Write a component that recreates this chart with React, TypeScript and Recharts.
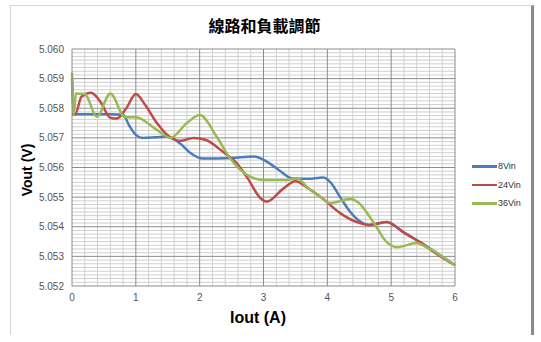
import {
  LineChart,
  Line,
  XAxis,
  YAxis,
  ReferenceLine
} from "recharts"

// Iout (A) sample points and Vout (V) readings for each input voltage
const iout8 = [0, 0.03, 0.3, 0.6, 0.8, 0.9, 1.0, 1.1, 1.3, 1.5, 1.7, 1.85, 2.05, 2.5, 2.85, 3.05, 3.25, 3.45, 3.7, 3.93, 4.05, 4.2, 4.36, 4.5, 4.65, 4.93, 5.2, 5.45, 6]
const vout8 = [5.059, 5.0578, 5.0578, 5.0578, 5.05778, 5.0574, 5.0571, 5.057, 5.05702, 5.05705, 5.0568, 5.0565, 5.0563, 5.05632, 5.05637, 5.0562, 5.0559, 5.05563, 5.05562, 5.05566, 5.0555, 5.055, 5.0545, 5.0542, 5.05406, 5.05416, 5.0538, 5.05348, 5.0527]

const iout24 = [0, 0.05, 0.15, 0.3, 0.45, 0.6, 0.7, 0.85, 1.0, 1.15, 1.33, 1.53, 1.7, 1.9, 2.1, 2.37, 2.58, 2.75, 2.95, 3.05, 3.3, 3.5, 3.7, 3.9, 4.2, 4.46, 4.67, 4.93, 5.19, 5.45, 5.7, 6]
const vout24 = [5.0578, 5.0578, 5.0584, 5.05852, 5.0582, 5.05768, 5.05765, 5.058, 5.05848, 5.0581, 5.0575, 5.05703, 5.0569, 5.057, 5.05693, 5.05652, 5.05615, 5.05564, 5.05497, 5.05485, 5.05527, 5.05554, 5.0553, 5.055, 5.05446, 5.05416, 5.05406, 5.05416, 5.05382, 5.05348, 5.0531, 5.0527]

const iout36 = [0, 0.03, 0.06, 0.2, 0.39, 0.6, 0.83, 1.0, 1.33, 1.54, 1.8, 2.0, 2.27, 2.48, 2.74, 3.0, 3.37, 3.52, 3.7, 3.89, 4.04, 4.36, 4.48, 4.72, 4.93, 5.09, 5.4, 5.56, 6]
const vout36 = [5.0592, 5.0578, 5.0585, 5.05848, 5.05771, 5.0585, 5.0577, 5.0577, 5.05727, 5.057, 5.0575, 5.05777, 5.05703, 5.0563, 5.05575, 5.05558, 5.05558, 5.05564, 5.0553, 5.055, 5.0548, 5.05494, 5.05483, 5.05416, 5.05348, 5.05331, 5.05345, 5.0533, 5.0527]

const xTicks = [0, 1, 2, 3, 4, 5, 6]
const yTicks = [5.052, 5.053, 5.054, 5.055, 5.056, 5.057, 5.058, 5.059, 5.06]

const seriesNames = ["8Vin", "24Vin", "36Vin"]
const colors = ["#4a7ebb", "#be4b48", "#98b954"]

const toPoints = (xs: number[], ys: number[]) =>
  xs.map((x, i) => ({ x, y: ys[i] }))

const series = [
  toPoints(iout8, vout8),
  toPoints(iout24, vout24),
  toPoints(iout36, vout36)
]

// minor grid positions
const minorX: number[] = []
for (let i = 1; i < 30; i++) if (i % 5 !== 0) minorX.push(i * 0.2)
const minorY: number[] = []
for (let i = 1; i < 64; i++) if (i % 8 !== 0) minorY.push(5.052 + i * 0.000125)

const MAJOR = "#8c8c8c"
const MINOR = "#cfcfcf"
const FONT = "Liberation Sans, Arial, sans-serif"

function LegendBox() {
  return (
    <div
      style={{
        position: "absolute",
        left: 472,
        top: 157,
        fontFamily: FONT,
        fontSize: 9,
        color: "#333"
      }}
    >
      {seriesNames.map((n, i) => (
        <div key={n} style={{ display: "flex", alignItems: "center", height: 18.5 }}>
          <div style={{ width: 25, height: 2.5, background: colors[i] }} />
          <span style={{ marginLeft: 1 }}>{n}</span>
        </div>
      ))}
    </div>
  )
}

export default function App() {
  return (
    <div style={{ position: "absolute", left: 0, top: 0, width: 541, height: 342, background: "#fff" }}>

      <div
        style={{
          position: "absolute",
          left: 10,
          top: 5,
          width: 520,
          height: 329,
          borderLeft: "1px solid #d4d4d4",
          borderTop: "1px solid #d4d4d4",
          borderRight: "3px solid #8a8a8a"
        }}
      />

      <div
        style={{
          position: "absolute",
          left: 0,
          width: 529,
          top: 13,
          textAlign: "center",
          fontFamily: "Noto Sans CJK TC",
          fontWeight: 700,
          fontSize: 16,
          color: "#000"
        }}
      >
        線路和負載調節
      </div>

      <div
        style={{
          position: "absolute",
          left: 27,
          top: 170,
          transform: "translate(-50%, -50%) rotate(-90deg)",
          whiteSpace: "nowrap",
          fontFamily: FONT,
          fontWeight: 700,
          fontSize: 14,
          color: "#000"
        }}
      >
        Vout (V)
      </div>

      <div
        style={{
          position: "absolute",
          left: 258,
          top: 318,
          transform: "translate(-50%, -50%)",
          whiteSpace: "nowrap",
          fontFamily: FONT,
          fontWeight: 700,
          fontSize: 16,
          color: "#000"
        }}
      >
        Iout (A)
      </div>

      <LineChart
        width={541}
        height={342}
        margin={{ top: 49, right: 86, bottom: 26, left: 0 }}
        style={{ position: "absolute", left: 0, top: 0 }}
      >
        <XAxis
          dataKey="x"
          type="number"
          domain={[0, 6]}
          ticks={xTicks}
          height={30}
          tickLine={false}
          axisLine={{ stroke: MAJOR }}
          tick={{ fontSize: 10, fill: "#555", fontFamily: FONT }}
        />
        <YAxis
          type="number"
          domain={[5.052, 5.06]}
          ticks={yTicks}
          width={72}
          tickLine={false}
          axisLine={{ stroke: MAJOR }}
          tickFormatter={(v: number) => v.toFixed(3)}
          tick={{ fontSize: 10, fill: "#555", fontFamily: FONT }}
        />

        {minorX.map((v) => (
          <ReferenceLine key={"mx" + v} x={v} stroke={MINOR} strokeWidth={1} />
        ))}
        {minorY.map((v) => (
          <ReferenceLine key={"my" + v} y={v} stroke={MINOR} strokeWidth={1} />
        ))}
        {xTicks.slice(1).map((v) => (
          <ReferenceLine key={"Mx" + v} x={v} stroke={MAJOR} strokeWidth={1} />
        ))}
        {yTicks.slice(1).map((v) => (
          <ReferenceLine key={"My" + v} y={v} stroke={MAJOR} strokeWidth={1} />
        ))}

        {series.map((d, i) => (
          <Line
            key={seriesNames[i]}
            data={d}
            dataKey="y"
            name={seriesNames[i]}
            type="monotone"
            stroke={colors[i]}
            strokeWidth={2.5}
            dot={false}
            isAnimationActive={false}
          />
        ))}
      </LineChart>

      <LegendBox />

    </div>
  )
}
